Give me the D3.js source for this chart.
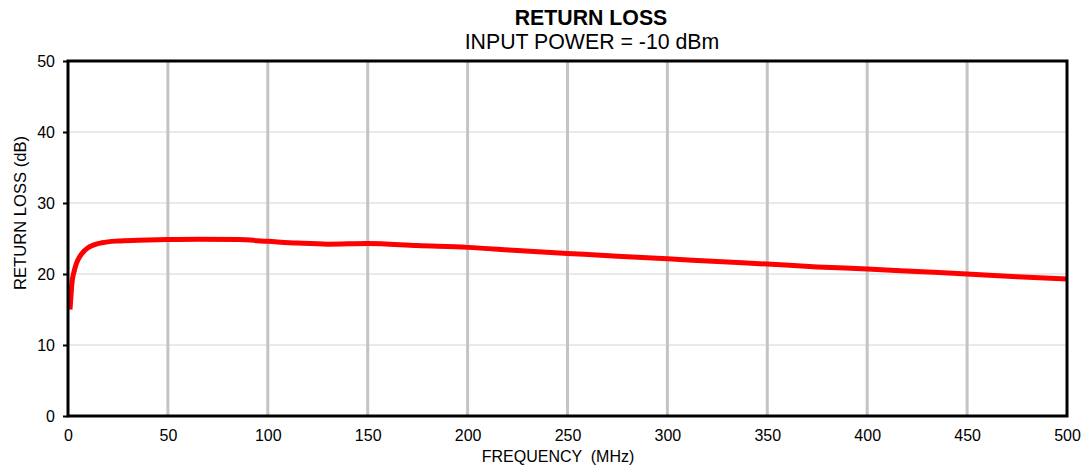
<!DOCTYPE html>
<html>
<head>
<meta charset="utf-8">
<script src="https://cdn.jsdelivr.net/npm/d3@7"></script>
<style>
  body { margin: 0; background: #fff; }
  text { font-family: "Liberation Sans", Arial, sans-serif; fill: #000; }
</style>
</head>
<body>
<div id="chart"></div>
<script>
// frequency (MHz) and return loss (dB)
const freq = [1, 1.5, 2, 3, 4, 5, 7, 10, 13, 17, 25, 35, 50, 65, 85, 100, 115, 130, 150, 175,
  200, 225, 250, 275, 300, 325, 350, 375, 400, 425, 450, 475, 500];
const returnLoss = [15.0, 17.0, 18.8, 20.3, 21.3, 22.0, 22.9, 23.7, 24.1, 24.4, 24.65, 24.75, 24.85, 24.9, 24.85, 24.6, 24.35, 24.2, 24.3, 24.0,
  23.75, 23.3, 22.9, 22.5, 22.15, 21.75, 21.4, 21.0, 20.7, 20.35, 20.0, 19.6, 19.3];
const xTicks = [0, 50, 100, 150, 200, 250, 300, 350, 400, 450, 500];
const yTicks = [0, 10, 20, 30, 40, 50];

const width = 1086, height = 469;
const margin = { top: 61, right: 19, bottom: 53, left: 68 };
const innerW = width - margin.left - margin.right;
const innerH = height - margin.top - margin.bottom;

const svg = d3.select("#chart").append("svg")
  .attr("width", width)
  .attr("height", height);

const x = d3.scaleLinear().domain([0, 500]).range([margin.left, margin.left + innerW]);
const y = d3.scaleLinear().domain([0, 50]).range([margin.top + innerH, margin.top]);

// horizontal grid (thin, light)
svg.append("g")
  .selectAll("line")
  .data(yTicks.slice(1, -1))
  .join("line")
  .attr("x1", x(0)).attr("x2", x(500))
  .attr("y1", d => y(d)).attr("y2", d => y(d))
  .attr("stroke", "#d4d4d4")
  .attr("stroke-width", 1);

// vertical grid (thicker, gray)
svg.append("g")
  .selectAll("line")
  .data(xTicks.slice(1, -1))
  .join("line")
  .attr("x1", d => x(d)).attr("x2", d => x(d))
  .attr("y1", y(0)).attr("y2", y(50))
  .attr("stroke", "#c4c4c4")
  .attr("stroke-width", 3);

// axes
const yAxis = svg.append("g")
  .attr("transform", `translate(${margin.left},0)`)
  .call(d3.axisLeft(y).tickValues(yTicks).tickSize(5).tickPadding(8));
yAxis.select(".domain").remove();
yAxis.selectAll(".tick line").attr("stroke", "#000").attr("stroke-width", 2);
yAxis.selectAll("text").style("font-size", "16px");

const xAxis = svg.append("g")
  .attr("transform", `translate(0,${margin.top + innerH})`)
  .call(d3.axisBottom(x).tickValues(xTicks).tickSize(0).tickPadding(14));
xAxis.select(".domain").remove();
xAxis.selectAll("text").style("font-size", "16px");

// data line
svg.append("path")
  .datum(freq.map((f, i) => [f, returnLoss[i]]))
  .attr("fill", "none")
  .attr("stroke", "#ff0000")
  .attr("stroke-width", 5)
  .attr("stroke-linejoin", "round")
  .attr("d", d3.line().x(d => x(d[0])).y(d => y(d[1])).curve(d3.curveMonotoneX));

// plot frame
svg.append("rect")
  .attr("x", margin.left).attr("y", margin.top)
  .attr("width", innerW).attr("height", innerH)
  .attr("fill", "none")
  .attr("stroke", "#000")
  .attr("stroke-width", 3);

// titles
svg.append("text")
  .attr("x", 591).attr("y", 25)
  .attr("text-anchor", "middle")
  .style("font-size", "21.3px").style("font-weight", "bold")
  .text("RETURN LOSS");
svg.append("text")
  .attr("x", 592).attr("y", 49)
  .attr("text-anchor", "middle")
  .style("font-size", "21.3px")
  .text("INPUT POWER = -10 dBm");

svg.append("text")
  .attr("x", 558).attr("y", 462)
  .attr("text-anchor", "middle")
  .style("font-size", "16px")
  .style("white-space", "pre")
  .text("FREQUENCY  (MHz)");

svg.append("text")
  .attr("transform", `translate(26,213) rotate(-90)`)
  .attr("text-anchor", "middle")
  .style("font-size", "16.6px")
  .text("RETURN LOSS (dB)");
</script>
</body>
</html>
